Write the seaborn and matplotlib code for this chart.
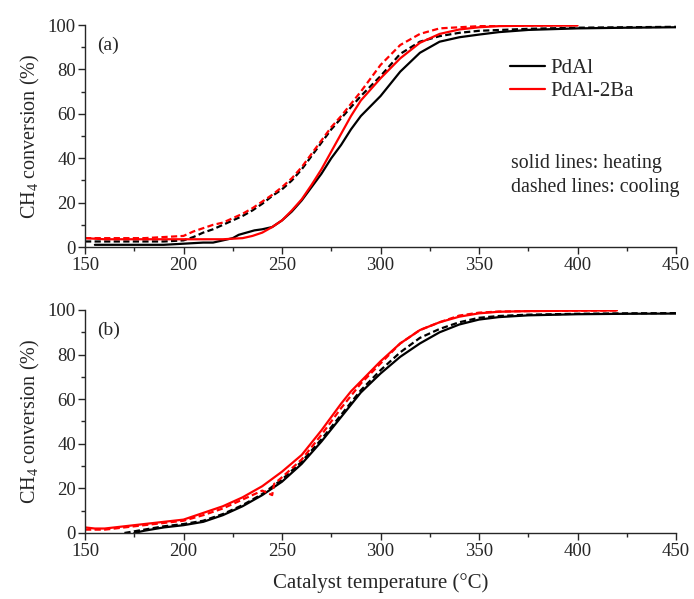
import numpy as np
import pandas as pd
import matplotlib
matplotlib.use("Agg")
import matplotlib.pyplot as plt
import seaborn as sns
from matplotlib.ticker import MultipleLocator

# ---------------- data ----------------
# Panel (a)
a_T_pdal_heat = [155,160,170,180,190,200,210,215,220,225,228,232,236,240,245,250,255,260,265,270,275,280,285,290,300,310,320,330,340,350,360,375,400,425,450]
a_X_pdal_heat = [1,1,1,1,1,1.5,2,2,3,4,5.5,6.5,7.5,8,9,12,16,21,27,33,40,46,53,59,68,79,87.5,92.5,94.5,95.7,96.8,97.8,98.5,98.8,99]
a_T_pdal_cool = [150,160,170,180,190,200,205,210,215,220,225,230,235,240,245,250,255,260,265,270,275,280,285,290,300,310,320,330,340,350,375,400,425,450]
a_X_pdal_cool = [2.5,2.5,2.5,2.5,2.5,3,4.5,6.5,8,10,12,14,16.5,19.5,23,26,30,35,41,47,53,58,63,68,77,87,92.5,95,96.5,97.4,98.3,98.8,99,99.2]
a_T_ba_heat = [150,160,170,180,190,200,210,220,230,235,240,245,250,255,260,265,270,275,280,285,290,300,310,320,330,340,350,360,375,400]
a_X_ba_heat = [4,3.5,3.5,3.5,3.5,3.5,3.5,3.5,4,5,6.5,9,12,16.5,21.5,28,35,43,51,59,66,76,85,92,96,98,99,99.5,99.7,99.8]
a_T_ba_cool = [150,160,170,180,190,200,205,210,215,220,225,230,235,240,245,250,255,260,265,270,275,280,285,290,300,310,320,330,340,350,375,400]
a_X_ba_cool = [4,4,4,4,4.5,5,7,8.5,10,11,13,15,17.5,20.5,23.5,27,31,36,42,48,54,59,64.5,70,82,91,96,98.5,99,99.5,99.8,99.9]

# Panel (b)
b_T_pdal_heat = [175,180,190,200,210,220,230,240,250,260,270,275,280,285,290,300,310,320,330,340,350,360,375,400,425,450]
b_X_pdal_heat = [0,1,2.5,3.5,5,8,12,17,23,31,41,46.5,52,57.5,63,71.5,79,85,90,93.5,95.7,96.8,97.6,98.1,98.3,98.4]
b_T_pdal_cool = [170,180,190,200,210,220,230,240,250,260,270,275,280,285,290,300,310,320,330,340,350,360,375,400,425,450]
b_X_pdal_cool = [0,1.5,3,4,5.5,8.5,12.5,17.5,24,32,42,47.5,53,58.5,64,73,81,87.5,91.5,94.5,96.5,97.3,97.9,98.3,98.5,98.6]
b_T_ba_heat = [150,155,160,170,180,190,200,205,210,220,230,240,250,260,270,275,280,285,290,300,310,320,330,340,350,360,375,400,420]
b_X_ba_heat = [2.5,2,2,3,4,5,6,7.5,9,12,16,21,27.5,35,46,52,58,63.5,68,77,85,91,94.5,97,98.5,99.2,99.5,99.7,99.8]
b_T_ba_cool = [150,160,170,180,190,200,210,220,230,240,245,246,250,260,270,275,280,285,290,300,310,320,330,340,350,360,375,400,420]
b_X_ba_cool = [1.5,1.5,2.5,3.5,4.5,5.5,8,11,15,19,17,22,25,33,44,50,56,61.5,67,76,85,91,94.5,97.5,98.8,99.3,99.5,99.7,99.8]

samples = ["PdAl", "PdAl-2Ba"]
panel_labels = ["(a)", "(b)"]

# ---------------- style ----------------
sns.set_style("ticks")
plt.rcParams["font.family"] = ["Liberation Serif", "DejaVu Serif"]
plt.rcParams["mathtext.fontset"] = "custom"
plt.rcParams["mathtext.rm"] = "Liberation Serif"
plt.rcParams["mathtext.it"] = "Liberation Serif:italic"

fig = plt.figure(figsize=(6.94, 5.99), dpi=100)
ax_a = fig.add_axes([0.1225, 0.5876, 0.8516, 0.3706])
ax_b = fig.add_axes([0.1225, 0.1102, 0.8516, 0.3723])

colors = {"PdAl": "black", "PdAl-2Ba": "#ff0000"}
dash = (0, (2.8, 1.5))

panels = [
    (ax_a, [(a_T_pdal_heat, a_X_pdal_heat, "PdAl", "-"),
            (a_T_pdal_cool, a_X_pdal_cool, "PdAl", dash),
            (a_T_ba_heat, a_X_ba_heat, "PdAl-2Ba", "-"),
            (a_T_ba_cool, a_X_ba_cool, "PdAl-2Ba", dash)]),
    (ax_b, [(b_T_pdal_heat, b_X_pdal_heat, "PdAl", "-"),
            (b_T_pdal_cool, b_X_pdal_cool, "PdAl", dash),
            (b_T_ba_heat, b_X_ba_heat, "PdAl-2Ba", "-"),
            (b_T_ba_cool, b_X_ba_cool, "PdAl-2Ba", dash)]),
]

for i, (ax, curves) in enumerate(panels):
    for T, X, s, ls in curves:
        df = pd.DataFrame({"T": T, "X": X})
        lab = s if (ls == "-" and i == 0) else None
        sns.lineplot(data=df, x="T", y="X", ax=ax, color=colors[s],
                     linestyle=ls, linewidth=1.6, label=lab, legend=False,
                     estimator=None, sort=False)
    ax.set_xlim(150, 450)
    ax.set_ylim(0, 100)
    ax.xaxis.set_major_locator(MultipleLocator(50))
    ax.xaxis.set_minor_locator(MultipleLocator(25))
    ax.yaxis.set_major_locator(MultipleLocator(20))
    ax.yaxis.set_minor_locator(MultipleLocator(10))
    ax.tick_params(which="major", direction="out", length=5, width=1, labelsize=13.5)
    ax.tick_params(axis="y", which="major", pad=1.5)
    ax.tick_params(axis="x", which="major", pad=2.5)
    ax.tick_params(which="minor", direction="out", length=3, width=1)
    sns.despine(ax=ax)
    for sp in ["left", "bottom"]:
        ax.spines[sp].set_linewidth(1.0)
    ax.set_xlabel("")
    ax.set_ylabel("CH$_4$ conversion (%)", fontsize=14.5, labelpad=4)
    ax.text(0.02, 0.91, panel_labels[i], transform=ax.transAxes, fontsize=14,
            ha="left", va="center")

ax_a.legend(loc="upper left", bbox_to_anchor=(0.705, 0.885), frameon=False,
            fontsize=15, handlelength=1.7, handletextpad=0.25, labelspacing=0.15,
            borderaxespad=0)
ax_a.text(0.72, 0.378, "solid lines: heating", transform=ax_a.transAxes,
          fontsize=14.3, ha="left", va="center")
ax_a.text(0.72, 0.266, "dashed lines: cooling", transform=ax_a.transAxes,
          fontsize=14.3, ha="left", va="center")

fig.text(0.548, 0.027, "Catalyst temperature (°C)", fontsize=15, ha="center", va="center")

fig.savefig("out.png", dpi=100)
